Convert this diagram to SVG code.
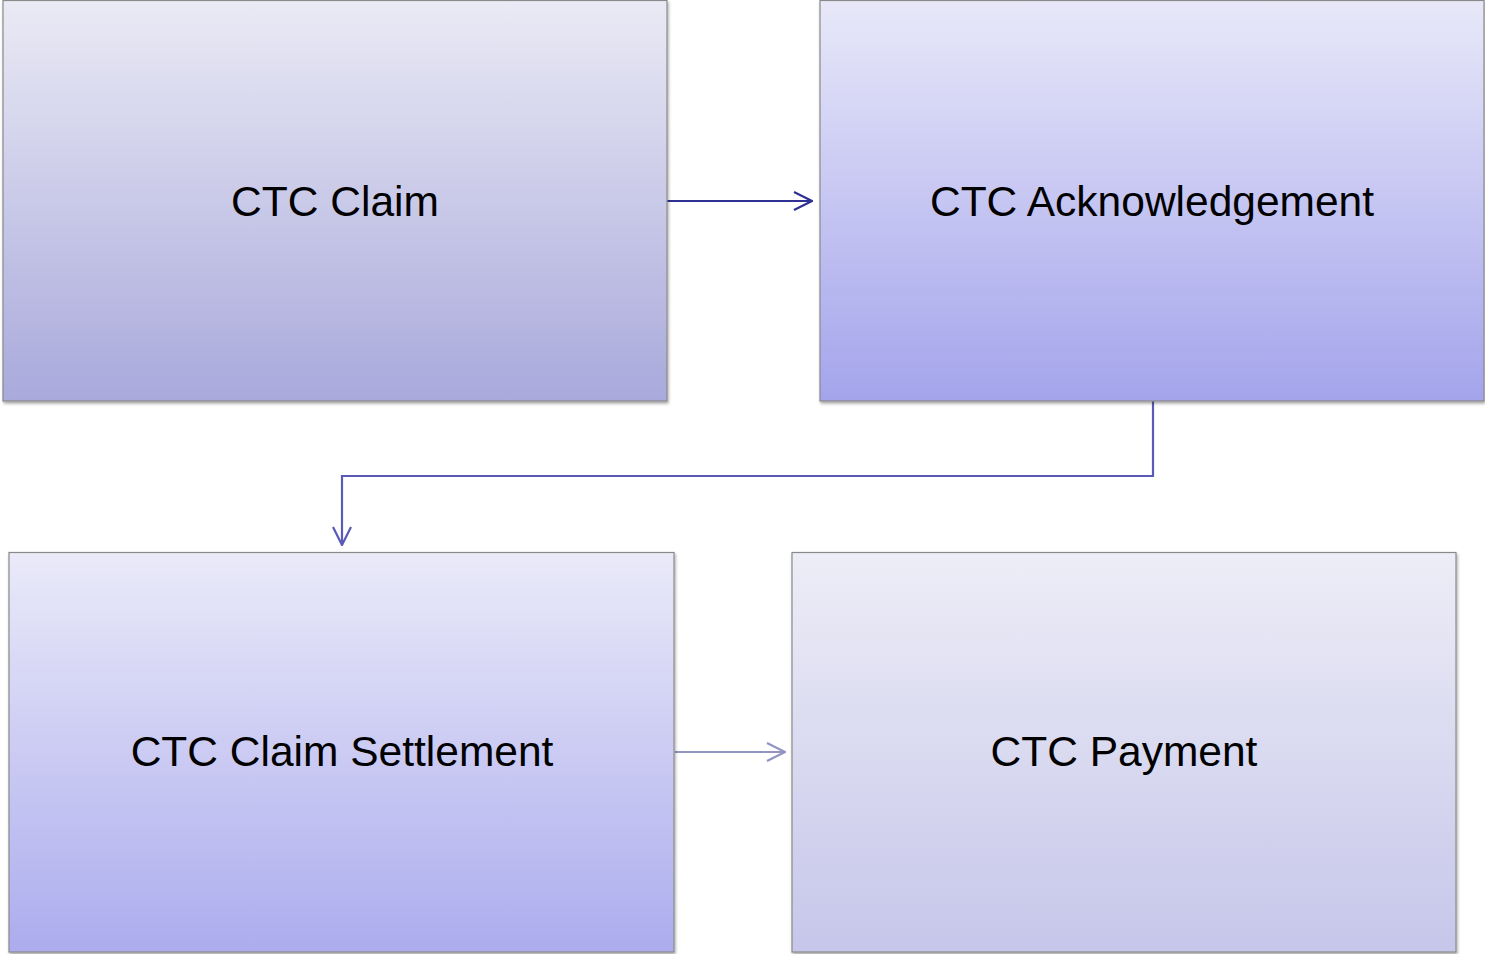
<svg xmlns="http://www.w3.org/2000/svg" width="1485" height="954" viewBox="0 0 1485 954">
  <defs>
    <linearGradient id="gClaim" x1="0" y1="0" x2="0" y2="1">
      <stop offset="0" stop-color="#eaeaf5"/>
      <stop offset="1" stop-color="#a9a9dc"/>
    </linearGradient>
    <linearGradient id="gAck" x1="0" y1="0" x2="0" y2="1">
      <stop offset="0" stop-color="#e8e8f9"/>
      <stop offset="1" stop-color="#a4a4ec"/>
    </linearGradient>
    <linearGradient id="gSettle" x1="0" y1="0" x2="0" y2="1">
      <stop offset="0" stop-color="#eaeaf9"/>
      <stop offset="1" stop-color="#acacee"/>
    </linearGradient>
    <linearGradient id="gPay" x1="0" y1="0" x2="0" y2="1">
      <stop offset="0" stop-color="#ededf7"/>
      <stop offset="1" stop-color="#c6c6ea"/>
    </linearGradient>
    <filter id="shadow" x="-5%" y="-5%" width="110%" height="110%">
      <feDropShadow dx="1" dy="2" stdDeviation="1.5" flood-color="#000" flood-opacity="0.35"/>
    </filter>
    <marker id="openDark" viewBox="0 0 20 20" refX="19" refY="10" markerWidth="20" markerHeight="20" markerUnits="userSpaceOnUse" orient="auto">
      <path d="M1,1 L19,10 L1,19" fill="none" stroke="#2e3192" stroke-width="2.2"/>
    </marker>
    <marker id="openMid" viewBox="0 0 20 20" refX="19" refY="10" markerWidth="20" markerHeight="20" markerUnits="userSpaceOnUse" orient="auto">
      <path d="M1,1 L19,10 L1,19" fill="none" stroke="#5a5ab8" stroke-width="2.2"/>
    </marker>
    <marker id="openLight" viewBox="0 0 20 20" refX="19" refY="10" markerWidth="20" markerHeight="20" markerUnits="userSpaceOnUse" orient="auto">
      <path d="M1,1 L19,10 L1,19" fill="none" stroke="#9393c4" stroke-width="2.2"/>
    </marker>
  </defs>
  <style>
    .box { stroke: #8a8a8a; stroke-width: 1.2; filter: url(#shadow); }
    .label { font-family: "Liberation Sans", Arial, sans-serif; font-size: 42.5px; fill: #000; text-anchor: middle; }
    .conn { fill: none; stroke-width: 2.2; }
  </style>
  <rect width="1485" height="954" fill="#ffffff"/>

  <g id="connectors">
    <path class="conn" d="M667,201 H812" stroke="#2e3192" marker-end="url(#openDark)"/>
    <path class="conn" d="M1153,401 V476 H342 V545" stroke="#5a5ab8" marker-end="url(#openMid)"/>
    <path class="conn" d="M675,752 H785" stroke="#9393c4" marker-end="url(#openLight)"/>
  </g>

  <g id="node-claim">
    <rect class="box" x="3" y="0.5" width="664" height="400.5" fill="url(#gClaim)"/>
    <text class="label" x="335" y="216">CTC Claim</text>
  </g>
  <g id="node-ack">
    <rect class="box" x="820" y="0.5" width="664" height="400.5" fill="url(#gAck)"/>
    <text class="label" x="1152" y="216">CTC Acknowledgement</text>
  </g>
  <g id="node-settlement">
    <rect class="box" x="9" y="552.5" width="665" height="399.5" fill="url(#gSettle)"/>
    <text class="label" x="342" y="766">CTC Claim Settlement</text>
  </g>
  <g id="node-payment">
    <rect class="box" x="792" y="552.5" width="664" height="399.5" fill="url(#gPay)"/>
    <text class="label" x="1124" y="766">CTC Payment</text>
  </g>
</svg>
